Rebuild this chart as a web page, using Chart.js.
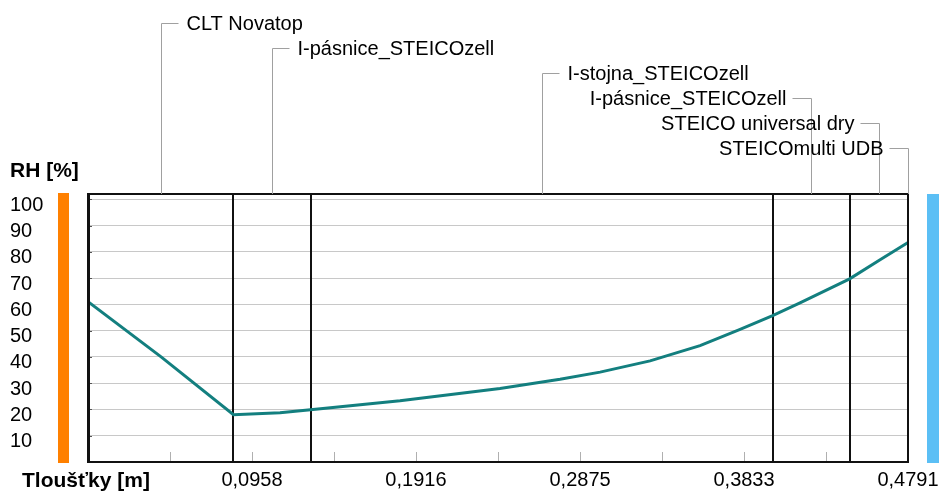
<!DOCTYPE html>
<html>
<head>
<meta charset="utf-8">
<script src="https://cdn.jsdelivr.net/npm/chart.js@4"></script>
<style>
  html, body { margin: 0; background: #fff; }
  canvas { display: block; }
</style>
</head>
<body>
<canvas id="rhCanvas" width="940" height="492"></canvas>
<script>
// ------------------ DATA ------------------
// layers left to right, thickness in m
const layerNames = ["CLT Novatop", "I-pásnice_STEICOzell", "I-stojna_STEICOzell", "I-pásnice_STEICOzell", "STEICO universal dry", "STEICOmulti UDB"];
const layerThick = [0.085, 0.045, 0.27, 0.045, 0.0339, 0.0002];

// RH profile across the wall
const posM = [0, 0.0427, 0.085, 0.1122, 0.13, 0.1823, 0.2407, 0.2758, 0.2992, 0.3284, 0.3576, 0.381, 0.40, 0.416, 0.445, 0.4628, 0.4791];
const rhPct = [61, 40, 18, 18.7, 19.9, 23.3, 28, 31.5, 34.2, 38.5, 44.3, 50.5, 55.7, 60.6, 69.7, 77, 83.5];

const xTickValues = [0, 0.0479, 0.0958, 0.1437, 0.1916, 0.2396, 0.2875, 0.3354, 0.3833, 0.4312, 0.4791];
const xTickLabels = ["", "", "0,0958", "", "0,1916", "", "0,2875", "", "0,3833", "", "0,4791"];

const FONT = '"Liberation Sans", Arial, sans-serif';

// layer boundaries and middles
let boundaries = [];
let middles = [];
let acc = 0;
layerThick.forEach(t => {
  middles.push(acc + t / 2);
  acc += t;
  boundaries.push(acc);
});

// ------------------ DECORATIONS ------------------
const decor = {
  id: "decor",
  beforeDatasetsDraw(chart) {
    const ctx = chart.ctx;
    const area = chart.chartArea;
    const xs = chart.scales.x;
    const ys = chart.scales.y;
    ctx.save();

    // small ticks inside along bottom
    ctx.strokeStyle = "#b0b0b0";
    ctx.lineWidth = 1;
    xTickValues.forEach(v => {
      const px = Math.round(xs.getPixelForValue(v)) + 0.5;
      ctx.beginPath();
      ctx.moveTo(px, area.bottom);
      ctx.lineTo(px, area.bottom - 10);
      ctx.stroke();
    });
    // small ticks on left edge
    ctx.strokeStyle = "#555";
    ys.ticks.forEach(t => {
      const py = Math.round(ys.getPixelForValue(t.value)) + 0.5;
      ctx.beginPath();
      ctx.moveTo(area.left, py);
      ctx.lineTo(area.left + 4, py);
      ctx.stroke();
    });

    // layer boundaries
    ctx.strokeStyle = "#111";
    ctx.lineWidth = 2;
    boundaries.slice(0, -1).forEach(b => {
      const px = Math.round(xs.getPixelForValue(b));
      ctx.beginPath();
      ctx.moveTo(px, area.top);
      ctx.lineTo(px, area.bottom);
      ctx.stroke();
    });
    ctx.restore();
  },
  afterDatasetsDraw(chart) {
    const ctx = chart.ctx;
    const area = chart.chartArea;
    const xs = chart.scales.x;
    ctx.save();

    // plot frame
    ctx.strokeStyle = "#111";
    ctx.lineWidth = 2;
    ctx.strokeRect(area.left, area.top, area.right - area.left, area.bottom - area.top);
    ctx.fillStyle = "#111";
    ctx.fillRect(area.left - 1, area.top - 1, 3, area.bottom - area.top + 2);

    // interior / exterior bars
    ctx.fillStyle = "#ff8000";
    ctx.fillRect(58, area.top - 1, 11, area.bottom - area.top + 2);
    ctx.fillStyle = "#5bbff5";
    ctx.fillRect(927, area.top, 12, area.bottom - area.top + 1);

    // layer labels with leaders
    ctx.font = "20px " + FONT;
    ctx.textBaseline = "middle";
    layerNames.forEach((name, i) => {
      const mx = Math.round(xs.getPixelForValue(middles[i])) + 0.5;
      const rowY = Math.round(23 + i * 25) + 0.5;
      const right = middles[i] > xs.max * 0.8;
      ctx.strokeStyle = "#a0a0a0";
      ctx.lineWidth = 1;
      ctx.beginPath();
      ctx.moveTo(mx, area.top);
      ctx.lineTo(mx, rowY);
      ctx.lineTo(right ? mx - 19 : mx + 17, rowY);
      ctx.stroke();
      ctx.fillStyle = "#000";
      ctx.textAlign = right ? "right" : "left";
      ctx.fillText(name, right ? mx - 25 : mx + 25, rowY + 1);
    });

    // axis titles
    ctx.font = "bold 21px " + FONT;
    ctx.textAlign = "left";
    ctx.fillText("RH [%]", 10, 171);
    ctx.fillText("Tloušťky [m]", 22, 481);
    ctx.restore();
  }
};

// ------------------ CHART ------------------
const ctx = document.getElementById("rhCanvas").getContext("2d");

const chart = new Chart(ctx, {
  type: "line",
  data: {
    datasets: [{
      data: posM.map((x, i) => ({ x: x, y: rhPct[i] })),
      borderColor: "#137f7f",
      borderWidth: 3,
      pointRadius: 0,
      tension: 0,
      fill: false
    }]
  },
  options: {
    responsive: false,
    animation: false,
    layout: { padding: { left: 10, right: 32, top: 194, bottom: 0 } },
    plugins: { legend: { display: false }, tooltip: { enabled: false } },
    scales: {
      x: {
        type: "linear",
        min: 0,
        max: 0.4791,
        afterBuildTicks: s => { s.ticks = xTickValues.map(v => ({ value: v })); },
        afterFit: s => { s.height = 30; s.paddingLeft = 0; s.paddingRight = 0; },
        grid: { display: false, drawTicks: false },
        border: { display: false },
        ticks: {
          autoSkip: false,
          maxRotation: 0,
          padding: 6,
          color: "#000",
          font: { family: FONT, size: 20 },
          callback: (v, i) => xTickLabels[i]
        }
      },
      y: {
        min: 0,
        max: 102,
        afterFit: s => { s.width = 78; s.paddingTop = 0; s.paddingBottom = 0; },
        grid: { color: "#c8c8c8", lineWidth: 1, drawTicks: false },
        border: { display: false },
        ticks: {
          stepSize: 10,
          autoSkip: false,
          includeBounds: false,
          crossAlign: "far",
          labelOffset: 6,
          color: "#000",
          font: { family: FONT, size: 20 },
          callback: v => (v === 0 ? "" : v)
        }
      }
    }
  },
  plugins: [decor]
});
</script>
</body>
</html>
